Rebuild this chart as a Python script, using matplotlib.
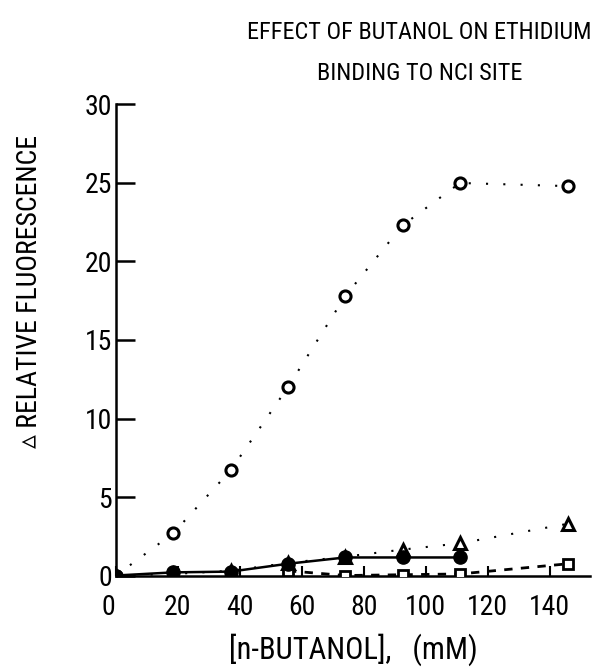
import matplotlib
matplotlib.use("Agg")
import matplotlib.pyplot as plt
import matplotlib.transforms as mtransforms

# butanol additions (mM)
conc = [0, 18.5, 37, 55.5, 74, 92.5, 111, 146]

# relative fluorescence for each series
open_circles = [0, 2.7, 6.7, 12.0, 17.8, 22.3, 25.0, 24.8]
filled_circles = [0, 0.2, 0.25, 0.75, 1.15, 1.15, 1.15]
triangles = [0, 0.1, 0.3, 0.8, 1.2, 1.65, 2.05, 3.3]
squares_x = [55.5, 74, 92.5, 111, 146]
squares = [0.3, 0.0, 0.05, 0.1, 0.75]

xticks = [0, 20, 40, 60, 80, 100, 120, 140]
yticks = [0, 5, 10, 15, 20, 25, 30]

plt.rcParams['font.family'] = ['Roboto Condensed', 'Roboto', 'DejaVu Sans']

fig = plt.figure(figsize=(5.99, 6.71), dpi=100)
ax = fig.add_axes([0.1937, 0.1423, 0.7913, 0.702])

dots = (0, (1, 7.3))
ax.plot(conc, open_circles, color='k', lw=1.5, ls=dots, marker='o', ms=8,
        mfc='white', mec='k', mew=2.2, zorder=3)
ax.plot(conc, triangles, color='k', lw=1.5, ls=dots, marker='^', ms=8.5,
        mfc='white', mec='k', mew=2.2, zorder=3)
ax.plot(conc[:len(filled_circles)], filled_circles, color='k', lw=1.8, ls='-',
        marker='o', ms=9.5, mfc='k', mec='k', zorder=4)
ax.plot(squares_x, squares, color='k', lw=2, ls=(0, (3, 3)), marker='s', ms=7.5,
        mfc='white', mec='k', mew=2, zorder=3)

ax.set_xlim(0, 153)
ax.set_ylim(0, 30)
ax.set_xticks(xticks)
ax.set_yticks(yticks)
ax.spines['top'].set_visible(False)
ax.spines['right'].set_visible(False)
for s in ('left', 'bottom'):
    ax.spines[s].set_linewidth(1.8)

ax.tick_params(axis='y', direction='in', length=14, width=1.8, pad=3, labelsize=20)
ax.tick_params(axis='x', direction='in', length=7, width=1.5, pad=13, labelsize=20)

# nudge the "0" on the x axis a little left of the corner
zero = ax.get_xticklabels()[0]
zero.set_transform(zero.get_transform() +
                   mtransforms.ScaledTranslation(-0.08, 0, fig.dpi_scale_trans))

ax.set_xlabel('[n-BUTANOL],   (mM)', fontsize=22, labelpad=9)
fig.text(0.05, 0.565, '\u25b5 RELATIVE FLUORESCENCE', rotation=90,
         ha='center', va='center', fontsize=20)

fig.text(0.70, 0.951, 'EFFECT OF BUTANOL ON ETHIDIUM', ha='center', va='center', fontsize=17.5)
fig.text(0.70, 0.891, 'BINDING TO NCI SITE', ha='center', va='center', fontsize=17.5)

fig.savefig('out.png', dpi=100)
